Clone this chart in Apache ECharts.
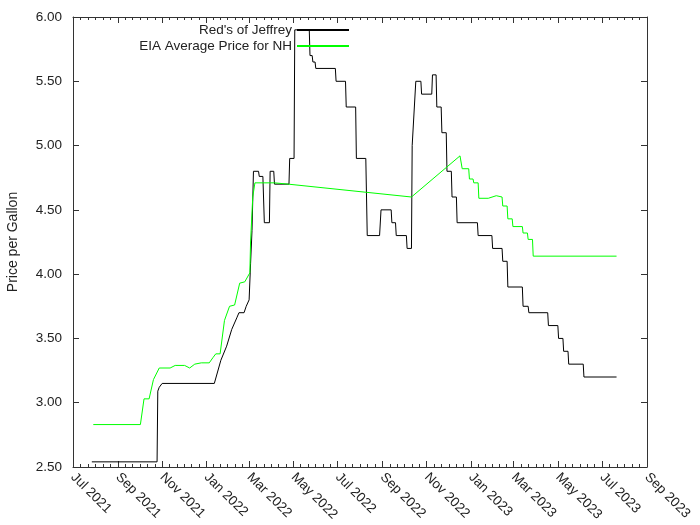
<!DOCTYPE html>
<html><head><meta charset="utf-8">
<script src="https://cdn.jsdelivr.net/npm/echarts@6/dist/echarts.min.js"></script>
<style>html,body{margin:0;padding:0;background:#fff}#c{width:700px;height:525px}</style>
</head><body><div id="c"></div>
<script>
const tickDates = ['2021-07-01','2021-09-01','2021-11-01','2022-01-01','2022-03-01','2022-05-01','2022-07-01','2022-09-01','2022-11-01','2023-01-01','2023-03-01','2023-05-01','2023-07-01','2023-09-01'];
const tickLabels = ['Jul 2021','Sep 2021','Nov 2021','Jan 2022','Mar 2022','May 2022','Jul 2022','Sep 2022','Nov 2022','Jan 2023','Mar 2023','May 2023','Jul 2023','Sep 2023'];
const seriesNames = ["Red's of Jeffrey", 'EIA Average Price for NH'];
const yMin = 2.5, yMax = 6, yStep = 0.5;

const redsDates = ['2021-07-27','2021-10-25','2021-10-26','2021-10-28','2021-11-01','2022-01-12','2022-01-21','2022-01-29','2022-02-05','2022-02-12','2022-02-15','2022-02-22','2022-02-25','2022-03-01','2022-03-03','2022-03-05','2022-03-07','2022-03-14','2022-03-15','2022-03-20','2022-03-22','2022-03-29','2022-03-30','2022-04-04','2022-04-05','2022-04-25','2022-04-26','2022-05-02','2022-05-03','2022-05-23','2022-05-24','2022-05-27','2022-05-28','2022-05-31','2022-06-01','2022-06-28','2022-06-29','2022-07-12','2022-07-13','2022-07-26','2022-07-27','2022-08-09','2022-08-11','2022-08-28','2022-08-30','2022-09-13','2022-09-14','2022-09-19','2022-09-20','2022-10-04','2022-10-05','2022-10-11','2022-10-12','2022-10-17','2022-10-24','2022-10-25','2022-11-08','2022-11-09','2022-11-14','2022-11-15','2022-11-21','2022-11-22','2022-11-28','2022-11-29','2022-12-05','2022-12-06','2022-12-12','2022-12-13','2023-01-10','2023-01-11','2023-01-30','2023-01-31','2023-02-13','2023-02-14','2023-02-20','2023-02-21','2023-03-13','2023-03-14','2023-03-21','2023-03-22','2023-04-17','2023-04-18','2023-05-01','2023-05-02','2023-05-08','2023-05-09','2023-05-15','2023-05-16','2023-06-05','2023-06-06','2023-07-21'];
const redsPrices = [2.54,2.54,3.09,3.12,3.15,3.15,3.33,3.44,3.57,3.66,3.70,3.70,3.75,3.80,4.08,4.34,4.80,4.80,4.76,4.76,4.40,4.40,4.80,4.80,4.70,4.70,4.90,4.90,5.90,5.90,5.70,5.70,5.65,5.65,5.60,5.60,5.50,5.50,5.30,5.30,4.90,4.90,4.30,4.30,4.50,4.50,4.40,4.40,4.30,4.30,4.20,4.20,5.00,5.50,5.50,5.40,5.40,5.55,5.55,5.30,5.30,5.10,5.10,4.80,4.80,4.60,4.60,4.40,4.40,4.30,4.30,4.20,4.20,4.10,4.10,3.90,3.90,3.75,3.75,3.70,3.70,3.60,3.60,3.50,3.50,3.40,3.40,3.30,3.30,3.20,3.20];

const eiaDates = ['2021-07-29','2021-10-02','2021-10-07','2021-10-14','2021-10-20','2021-10-28','2021-11-12','2021-11-19','2021-12-02','2021-12-09','2021-12-16','2021-12-25','2022-01-05','2022-01-10','2022-01-14','2022-01-20','2022-01-26','2022-02-02','2022-02-09','2022-02-16','2022-02-23','2022-03-02','2022-03-03','2022-03-06','2022-03-09','2022-04-05','2022-04-24','2022-10-11','2022-12-17','2022-12-19','2022-12-20','2022-12-29','2022-12-30','2023-01-04','2023-01-05','2023-01-11','2023-01-12','2023-01-25','2023-02-05','2023-02-13','2023-02-14','2023-02-20','2023-02-21','2023-02-27','2023-02-28','2023-03-13','2023-03-14','2023-03-20','2023-03-21','2023-03-27','2023-03-28','2023-07-21'];
const eiaPrices = [2.83,2.83,3.03,3.03,3.18,3.27,3.27,3.29,3.29,3.27,3.30,3.31,3.31,3.35,3.38,3.38,3.64,3.75,3.76,3.93,3.94,4.01,4.25,4.60,4.71,4.71,4.70,4.60,4.92,4.92,4.82,4.82,4.74,4.74,4.71,4.71,4.59,4.59,4.61,4.60,4.53,4.53,4.43,4.43,4.37,4.37,4.32,4.32,4.27,4.27,4.14,4.14];

function ts(s){ const p = s.split('-').map(Number); return Date.UTC(p[0], p[1]-1, p[2]); }
const majorTs = tickDates.map(ts);
const minorTs = [];
for (let i = 0; i < majorTs.length - 1; i++) {
  for (let k = 1; k < 6; k++) minorTs.push(majorTs[i] + (majorTs[i+1]-majorTs[i]) * k / 6);
}
const FONT = "'Liberation Sans', Arial, sans-serif";
const FS = 13.5;
const TXT = '#222';
const AX = '#333';
const xBase = {type:'value', min: majorTs[0], max: majorTs[majorTs.length-1], splitLine:{show:false}, scale:true};
function labelFor(v){
  let best = 0;
  for (let i = 1; i < majorTs.length; i++) if (Math.abs(majorTs[i]-v) < Math.abs(majorTs[best]-v)) best = i;
  return tickLabels[best];
}

const chart = echarts.init(document.getElementById('c'), null, {renderer:'canvas'});
chart.setOption({
  animation:false,
  backgroundColor:'#fff',
  grid:{left:73, right:53, top:17, bottom:58, containLabel:false, outerBoundsMode:'none'},
  legend:{orient:'vertical', right:350, top:23, align:'right', padding:0, itemWidth:52, itemHeight:15, itemGap:2,
    itemStyle:{opacity:0},
    textStyle:{fontSize:FS, color:TXT, fontFamily:FONT}, data:seriesNames},
  xAxis:[
    Object.assign({}, xBase, {position:'bottom', axisLine:{show:true, lineStyle:{color:AX}},
      axisTick:{show:true, inside:true, length:6, customValues:majorTs, lineStyle:{color:AX}},
      axisLabel:{show:true, customValues:majorTs, rotate:-45, margin:8, formatter:labelFor, fontSize:FS, color:TXT, fontFamily:FONT}}),
    Object.assign({}, xBase, {position:'bottom', axisLine:{show:false},
      axisTick:{show:true, inside:true, length:3, customValues:minorTs, lineStyle:{color:AX}}, axisLabel:{show:false}}),
    Object.assign({}, xBase, {position:'top', axisLine:{show:true, lineStyle:{color:AX}},
      axisTick:{show:true, inside:true, length:6, customValues:majorTs, lineStyle:{color:AX}}, axisLabel:{show:false}}),
    Object.assign({}, xBase, {position:'top', axisLine:{show:false},
      axisTick:{show:true, inside:true, length:3, customValues:minorTs, lineStyle:{color:AX}}, axisLabel:{show:false}})
  ],
  yAxis:[
    {type:'value', min:yMin, max:yMax, interval:yStep, position:'left', name:'Price per Gallon', nameLocation:'middle', nameGap:53,
      nameTextStyle:{fontSize:14, color:TXT, fontFamily:FONT},
      axisLine:{show:true, lineStyle:{color:AX}}, axisTick:{show:true, inside:true, length:6, lineStyle:{color:AX}},
      axisLabel:{formatter:v=>v.toFixed(2), margin:11, fontSize:FS, color:TXT, fontFamily:FONT}, splitLine:{show:false}},
    {type:'value', min:yMin, max:yMax, interval:yStep, position:'right',
      axisLine:{show:true, lineStyle:{color:AX}}, axisTick:{show:true, inside:true, length:6, lineStyle:{color:AX}},
      axisLabel:{show:false}, splitLine:{show:false}}
  ],
  series:[
    {name:seriesNames[0], type:'line', xAxisIndex:0, yAxisIndex:0, symbol:'none', data:redsDates.map((d,i)=>[ts(d), redsPrices[i]]),
      lineStyle:{color:'#000', width:1}, itemStyle:{color:'#000'}},
    {name:seriesNames[1], type:'line', xAxisIndex:0, yAxisIndex:0, symbol:'none', data:eiaDates.map((d,i)=>[ts(d), eiaPrices[i]]),
      lineStyle:{color:'#00ff00', width:1}, itemStyle:{color:'#00ff00'}}
  ]
});
</script></body></html>
